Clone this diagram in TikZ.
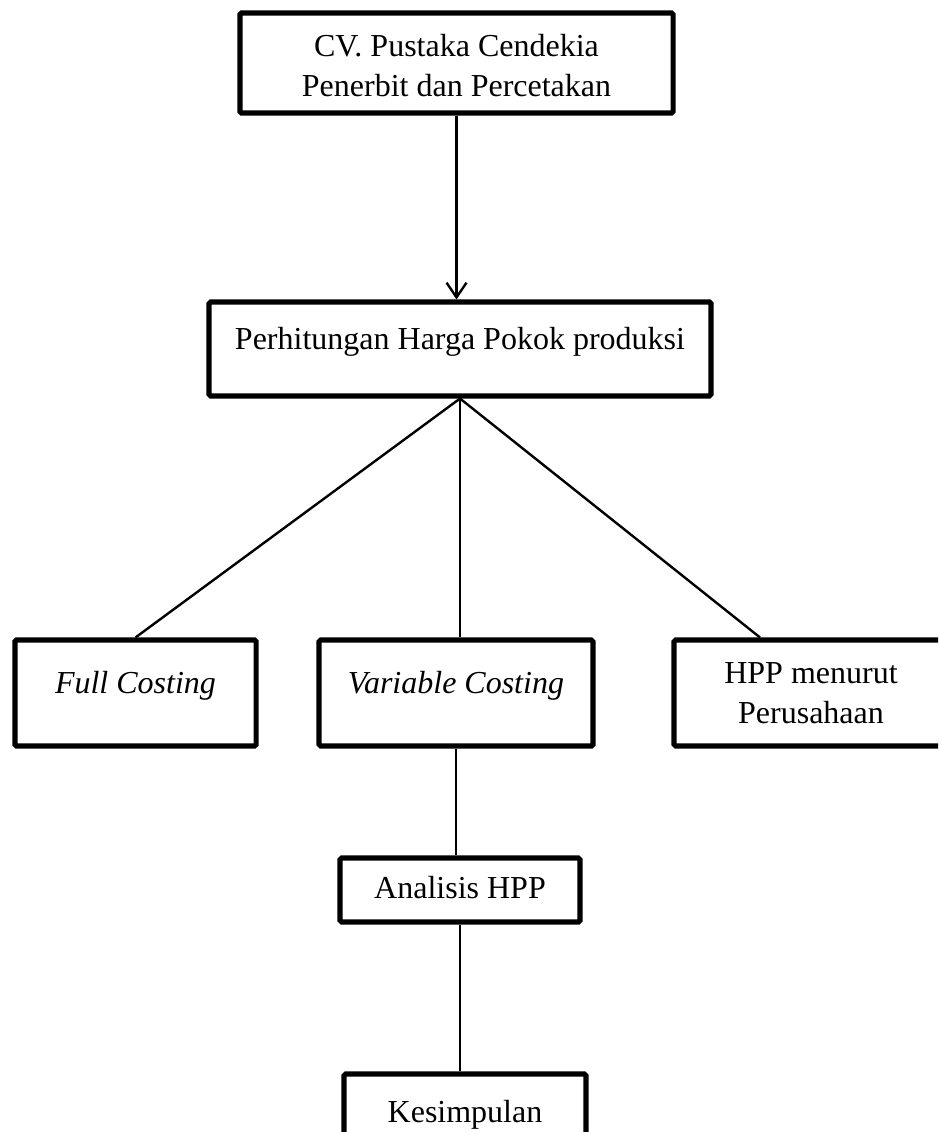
\documentclass[tikz,border=0pt]{standalone}
\usepackage{fontspec}
\setmainfont{Liberation Serif}
\usetikzlibrary{arrows.meta,calc}

\begin{document}
\begin{tikzpicture}[
  font=\fontsize{12}{15}\selectfont,
  x=0.375pt,
  y=-0.375pt,
  box/.style={draw, line width=1.9pt, rounded corners=0.6pt, align=center,
    inner sep=0pt},
  single/.style={box, text height=8.5pt, text depth=#1},
  single/.default=3pt,
  link/.style={line width=0.9pt},
  arrow/.style={link, -{Straight Barb[length=5.5pt,width=7.5pt]}}
]
  \clip (0,0) rectangle (938,1132);

  \node[box, minimum width=162.4pt, minimum height=37.5pt, text height=25.4pt, text depth=0pt] (cv) at (456.5,63)
    {CV. Pustaka Cendekia\\Penerbit dan Percetakan};
  \node[single=7.8pt, minimum width=188.25pt, minimum height=35.25pt] (hpp) at (460,349)
    {Perhitungan Harga Pokok produksi};
  \node[single=8.5pt, minimum width=90.4pt, minimum height=39.75pt] (full) at (135.5,693)
    {\textit{Full Costing}};
  \node[single=8.5pt, minimum width=102.75pt, minimum height=39.75pt] (var) at (456,693)
    {\textit{Variable Costing}};
  \node[box, minimum width=102.75pt, minimum height=39.75pt] (comp) at (811,693)
    {HPP menurut\\Perusahaan};
  \node[single=2.2pt, minimum width=90pt, minimum height=24pt] (ana) at (460,890)
    {Analisis HPP};
  \node[single, minimum width=90.75pt, minimum height=30.75pt] (kes) at (465,1115)
    {Kesimpulan};

  \draw[arrow] (cv.south) -- (cv.south |- hpp.north);
  \draw[link] (hpp.south) -- (full.north);
  \draw[link] (hpp.south) -- (hpp.south |- var.north);
  \draw[link] (hpp.south) -- ($(comp.north)+(-51,0)$);
  \draw[link] (var.south) -- (var.south |- ana.north);
  \draw[link] (ana.south) -- (ana.south |- kes.north);
\end{tikzpicture}
\end{document}
